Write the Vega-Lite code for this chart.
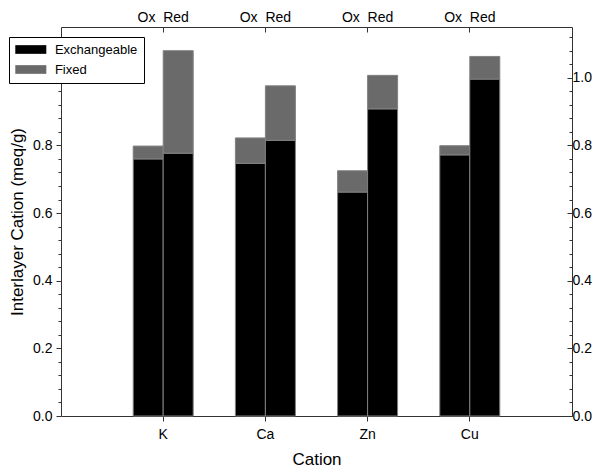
{
  "$schema": "https://vega.github.io/schema/vega-lite/v6.json",
  "width": 511,
  "height": 389,
  "autosize": {"type": "none"},
  "padding": {"left": 61, "top": 27, "right": 29, "bottom": 56},
  "config": {
    "font": "Liberation Sans",
    "view": {"stroke": null},
    "axis": {
      "grid": false,
      "domainColor": "#333",
      "tickColor": "#333",
      "labelColor": "black",
      "titleColor": "black",
      "labelFontSize": 14,
      "titleFontSize": 17,
      "titleFontWeight": "normal",
      "labelFont": "Liberation Sans",
      "titleFont": "Liberation Sans"
    },
    "legend": {
      "labelFont": "Liberation Sans"
    }
  },
  "data": {
    "values": [
      {"cation": "K", "treatment": "Ox", "type": "Exchangeable", "value": 0.760},
      {"cation": "K", "treatment": "Ox", "type": "Fixed", "value": 0.038},
      {"cation": "K", "treatment": "Red", "type": "Exchangeable", "value": 0.777},
      {"cation": "K", "treatment": "Red", "type": "Fixed", "value": 0.303},
      {"cation": "Ca", "treatment": "Ox", "type": "Exchangeable", "value": 0.747},
      {"cation": "Ca", "treatment": "Ox", "type": "Fixed", "value": 0.075},
      {"cation": "Ca", "treatment": "Red", "type": "Exchangeable", "value": 0.815},
      {"cation": "Ca", "treatment": "Red", "type": "Fixed", "value": 0.161},
      {"cation": "Zn", "treatment": "Ox", "type": "Exchangeable", "value": 0.662},
      {"cation": "Zn", "treatment": "Ox", "type": "Fixed", "value": 0.063},
      {"cation": "Zn", "treatment": "Red", "type": "Exchangeable", "value": 0.908},
      {"cation": "Zn", "treatment": "Red", "type": "Fixed", "value": 0.099},
      {"cation": "Cu", "treatment": "Ox", "type": "Exchangeable", "value": 0.772},
      {"cation": "Cu", "treatment": "Ox", "type": "Fixed", "value": 0.027},
      {"cation": "Cu", "treatment": "Red", "type": "Exchangeable", "value": 0.996},
      {"cation": "Cu", "treatment": "Red", "type": "Fixed", "value": 0.067}
    ]
  },
  "layer": [
    {
      "mark": {"type": "bar", "stroke": "#808080", "strokeWidth": 1},
      "encoding": {
        "x": {
          "field": "cation",
          "type": "nominal",
          "sort": ["K", "Ca", "Zn", "Cu"],
          "scale": {"paddingInner": 0.413, "paddingOuter": 0.7065},
          "axis": {
            "orient": "bottom",
            "title": "Cation",
            "labelAngle": 0,
            "tickSize": 5,
            "labelPadding": 6,
            "titlePadding": 10
          }
        },
        "xOffset": {
          "field": "treatment",
          "type": "nominal",
          "sort": ["Ox", "Red"],
          "scale": {"paddingInner": 0, "paddingOuter": 0}
        },
        "y": {
          "field": "value",
          "type": "quantitative",
          "stack": "zero",
          "scale": {"domain": [0, 1.15], "nice": false, "zero": true},
          "axis": {
            "orient": "left",
            "title": "Interlayer Cation (meq/g)",
            "values": [0, 0.04, 0.08, 0.12, 0.16, 0.2, 0.24, 0.28, 0.32, 0.36, 0.4, 0.44, 0.48, 0.52, 0.56, 0.6, 0.64, 0.68, 0.72, 0.76, 0.8, 0.84, 0.88, 0.92, 0.96, 1.0, 1.04, 1.08, 1.12],
            "labelExpr": "abs(datum.value*5 - round(datum.value*5)) < 0.001 ? format(datum.value, '.1f') : ''",
            "tickSize": {"condition": {"test": "abs(datum.value*5 - round(datum.value*5)) < 0.001", "value": 5}, "value": 3},
            "labelPadding": 4,
            "titlePadding": 6
          }
        },
        "color": {
          "field": "type",
          "type": "nominal",
          "scale": {"domain": ["Exchangeable", "Fixed"], "range": ["#000000", "#6a6a6a"]},
          "legend": {
            "title": null,
            "orient": "none",
            "legendX": -52,
            "legendY": 10,
            "fillColor": "white",
            "strokeColor": "black",
            "padding": 6,
            "symbolType": "M-2.5,-0.7H2.5V0.7H-2.5Z",
            "symbolSize": 154,
            "symbolOffset": 9.3,
            "symbolStrokeWidth": 0,
            "symbolOpacity": 1,
            "labelFontSize": 13,
            "labelOffset": 17.6,
            "rowPadding": 6
          }
        },
        "order": {"field": "type", "sort": "ascending"}
      }
    },
    {
      "mark": {"type": "bar", "opacity": 0},
      "encoding": {
        "x": {
          "field": "cation",
          "type": "nominal",
          "sort": ["K", "Ca", "Zn", "Cu"],
          "axis": {
            "orient": "top",
            "title": null,
            "labelAngle": 0,
            "labelExpr": "'Ox\u00a0\u00a0Red'",
            "tickSize": -5,
            "labelPadding": 8
          }
        },
        "xOffset": {"field": "treatment", "type": "nominal", "sort": ["Ox", "Red"]},
        "y": {
          "field": "value",
          "type": "quantitative",
          "stack": "zero",
          "axis": {
            "orient": "right",
            "title": null,
            "values": [0, 0.04, 0.08, 0.12, 0.16, 0.2, 0.24, 0.28, 0.32, 0.36, 0.4, 0.44, 0.48, 0.52, 0.56, 0.6, 0.64, 0.68, 0.72, 0.76, 0.8, 0.84, 0.88, 0.92, 0.96, 1.0, 1.04, 1.08, 1.12],
            "labelExpr": "abs(datum.value*5 - round(datum.value*5)) < 0.001 ? format(datum.value, '.1f') : ''",
            "tickSize": {"condition": {"test": "abs(datum.value*5 - round(datum.value*5)) < 0.001", "value": -5}, "value": -3},
            "labelPadding": 5
          }
        },
        "detail": {"field": "type", "type": "nominal"}
      }
    }
  ],
  "resolve": {"axis": {"x": "independent", "y": "independent"}}
}
